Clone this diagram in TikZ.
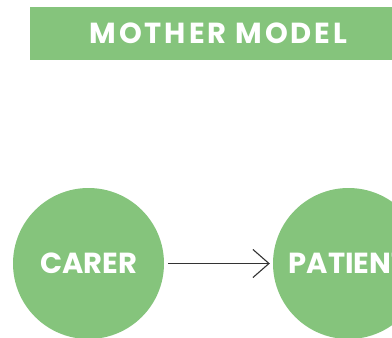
\documentclass[tikz,border=0pt]{standalone}
\usepackage{fontspec}
\setmainfont{Poppins}
\newfontfamily\bannerfont[LetterSpace=10]{Poppins}
\usetikzlibrary{arrows.meta}
\definecolor{modelgreen}{RGB}{133,196,124}
\tikzset{
  person/.style={circle, fill=modelgreen, minimum size=151pt, inner sep=0pt,
    text=white, font=\bfseries\fontsize{29}{29}\selectfont},
  banner/.style={rectangle, fill=modelgreen, minimum width=377pt, minimum height=53pt,
    inner sep=0pt, text=white, font=\bannerfont\bfseries\fontsize{29}{29}\selectfont},
}
\begin{document}
\begin{tikzpicture}[x=1pt, y=-1pt]
  \useasboundingbox (0,0) rectangle (392,338);
  \clip (0,0) rectangle (392,338);
  \node[banner] (title) at (218.5,33.5) {MOTHER MODEL};
  \draw
    (88.5,263.5) node[person] (carer) {CARER}
    (348.5,263.5) node[person] (patient) {PATIENT};
  \begin{scope}[-{Straight Barb[length=16pt, width=28pt]}, line width=1.1pt, draw=black!80]
    \draw[shorten <=4pt, shorten >=3pt] (carer) to (patient);
  \end{scope}
\end{tikzpicture}
\end{document}
